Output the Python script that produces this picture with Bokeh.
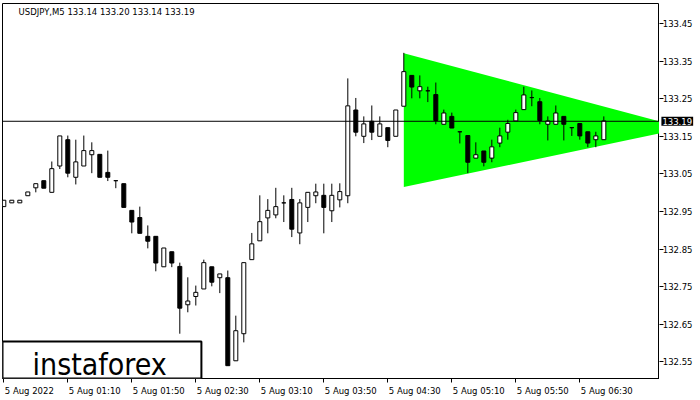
from bokeh.plotting import figure
from bokeh.layouts import row
from bokeh.models import (Range1d, FixedTicker, Span, Label, BoxAnnotation, ColumnDataSource,
                          NumeralTickFormatter, LinearAxis)
from bokeh.embed import file_html
from bokeh.resources import INLINE

# ---- data (USDJPY M5, 5 Aug 2022) ----
opens = [132.963, 132.973, 132.973, 132.992, 133.013, 133.032, 133.001, 133.071, 133.141, 133.041,
         133.071, 133.101, 133.102, 133.054, 133.032, 133.024, 132.953, 132.934, 132.884, 132.884,
         132.803, 132.843, 132.804, 132.702, 132.724, 132.744, 132.803, 132.774, 132.774, 132.553,
         132.625, 132.822, 132.872, 132.933, 132.941, 132.973, 132.982, 132.893, 132.961, 132.992,
         132.993, 132.952, 132.981, 132.992, 133.220, 133.150, 133.190, 133.150, 133.173, 133.150,
         133.230, 133.312, 133.271, 133.271, 133.261, 133.182, 133.203, 133.162, 133.152, 133.092,
         133.111, 133.092, 133.132, 133.161, 133.191, 133.221, 133.253, 133.242, 133.182, 133.182,
         133.203, 133.173, 133.184, 133.162, 133.141, 133.141]
highs = [132.980, 132.980, 132.980, 133.002, 133.024, 133.032, 133.083, 133.151, 133.152, 133.141,
         133.152, 133.134, 133.102, 133.112, 133.032, 133.024, 132.953, 132.963, 132.913, 132.884,
         132.853, 132.843, 132.814, 132.775, 132.753, 132.822, 132.803, 132.784, 132.793, 132.673,
         132.814, 132.893, 132.993, 132.983, 133.013, 132.993, 133.013, 132.983, 133.001, 133.024,
         133.024, 133.024, 133.025, 133.304, 133.252, 133.203, 133.232, 133.203, 133.173, 133.220,
         133.372, 133.312, 133.312, 133.282, 133.293, 133.221, 133.213, 133.162, 133.152, 133.134,
         133.111, 133.141, 133.173, 133.194, 133.221, 133.282, 133.272, 133.252, 133.203, 133.232,
         133.203, 133.173, 133.184, 133.162, 133.162, 133.203]
lows = [132.963, 132.973, 132.973, 132.992, 133.001, 133.012, 133.001, 133.063, 133.041, 133.022,
        133.071, 133.052, 133.041, 133.031, 133.012, 132.961, 132.892, 132.892, 132.852, 132.791,
        132.803, 132.802, 132.625, 132.682, 132.700, 132.744, 132.751, 132.733, 132.540, 132.553,
        132.602, 132.822, 132.872, 132.892, 132.932, 132.922, 132.882, 132.863, 132.922, 132.972,
        132.892, 132.922, 132.961, 132.972, 133.150, 133.132, 133.140, 133.150, 133.121, 133.150,
        133.230, 133.251, 133.251, 133.241, 133.182, 133.182, 133.172, 133.131, 133.052, 133.092,
        133.070, 133.081, 133.121, 133.141, 133.191, 133.221, 133.230, 133.182, 133.139, 133.182,
        133.139, 133.151, 133.141, 133.121, 133.121, 133.141]
closes = [132.980, 132.980, 132.980, 133.002, 133.024, 133.012, 133.064, 133.151, 133.052, 133.082,
          133.112, 133.112, 133.041, 133.041, 133.032, 132.961, 132.922, 132.892, 132.871, 132.813,
          132.853, 132.813, 132.693, 132.712, 132.735, 132.814, 132.762, 132.784, 132.540, 132.633,
          132.814, 132.864, 132.923, 132.953, 132.963, 132.973, 132.903, 132.973, 133.001, 133.002,
          132.961, 132.993, 133.003, 133.231, 133.161, 133.183, 133.161, 133.183, 133.139, 133.220,
          133.322, 133.281, 133.282, 133.271, 133.192, 133.212, 133.172, 133.162, 133.081, 133.101,
          133.081, 133.122, 133.151, 133.184, 133.213, 133.260, 133.253, 133.192, 133.191, 133.212,
          133.182, 133.173, 133.151, 133.132, 133.151, 133.191]

tick_bars = [0, 8, 16, 24, 32, 40, 48, 56, 64, 72]
tick_labels = ["5 Aug 2022", "5 Aug 01:10", "5 Aug 01:50", "5 Aug 02:30", "5 Aug 03:10",
               "5 Aug 03:50", "5 Aug 04:30", "5 Aug 05:10", "5 Aug 05:50", "5 Aug 06:30"]
price_ticks = [132.55, 132.65, 132.75, 132.85, 132.95, 133.05, 133.15, 133.25, 133.35, 133.45]

# symmetrical triangle pattern: start bar, upper/lower start prices, apex bar and price
tri_x = [50, 85.1, 50]
tri_y = [133.371, 133.172, 133.015]

bid_price = 133.19
title_text = "USDJPY,M5  133.14 133.20 133.14 133.19"

# ---- build ----
idx = list(range(len(opens)))
bull = [c > o for o, c in zip(opens, closes)]
src = ColumnDataSource(dict(
    x=idx, o=opens, h=highs, l=lows, c=closes,
    top=[max(o, c) for o, c in zip(opens, closes)],
    bot=[min(o, c) for o, c in zip(opens, closes)],
    fill=["white" if b else "black" for b in bull],
))

FONT = "DejaVu Sans"
FS = "8.5px"
PX_PER_BAR = 8.0
yr = Range1d(132.5059, 133.5032)

# ---------- main chart ----------
p = figure(frame_width=657, frame_height=375, output_backend="svg", toolbar_location=None,
           x_range=Range1d(-0.1625, 81.96), y_range=yr,
           y_axis_location=None, x_axis_location=None,
           min_border_left=2, min_border_top=3, min_border_right=0, min_border_bottom=0)
p.background_fill_color = "white"
p.border_fill_color = "white"
p.outline_line_color = "black"
p.outline_line_width = 1
p.xgrid.visible = False
p.ygrid.visible = False

p.patch(tri_x, tri_y, fill_color="#00ff00", line_color=None)
p.segment(x0="x", y0="l", x1="x", y1="h", source=src, line_color="black", line_width=1)
p.vbar(x="x", top="top", bottom="bot", width=0.5, source=src,
       fill_color="fill", line_color="black", line_width=1)
p.add_layout(Span(location=bid_price, dimension="width", line_color="black", line_width=1))

# x axis: tick marks at bar positions
xa = LinearAxis(ticker=FixedTicker(ticks=tick_bars),
                major_label_overrides={t: "" for t in tick_bars},
                major_label_text_font_size="1px", major_label_standoff=0,
                axis_line_color="black", major_tick_line_color="black",
                major_tick_in=0, major_tick_out=4, minor_tick_line_color=None)
p.add_layout(xa, "below")
# x axis labels: left-aligned at each tick (MetaTrader style)
char_w = {c: 0.636 for c in "0123456789"}
char_w.update({" ": 0.318, "A": 0.684, "u": 0.634, "g": 0.635, ":": 0.337})
label_pos = []
for t, s in zip(tick_bars, tick_labels):
    w = sum(char_w.get(ch, 0.6) for ch in s) * 8.5
    label_pos.append(t + (w / 2 + 1) / PX_PER_BAR)
xl = LinearAxis(ticker=FixedTicker(ticks=label_pos),
                major_label_overrides={lp: s for lp, s in zip(label_pos, tick_labels)},
                axis_line_color=None, major_tick_line_color=None, minor_tick_line_color=None,
                major_label_text_font=FONT, major_label_text_font_size=FS,
                major_label_text_color="black", major_label_standoff=-3)
p.add_layout(xl, "below")

p.add_layout(Label(x=1.84, y=133.4806, text=title_text, text_font=FONT, text_font_size=FS,
                   text_color="black", text_baseline="middle", text_align="left"))

p.add_layout(BoxAnnotation(left=-0.1625, right=24.7, bottom=132.5059, top=132.604,
                           fill_color="white", fill_alpha=1, line_color="black", line_alpha=1,
                           line_width=2))
p.add_layout(Label(x=3.59, y=132.542, text="instaforex", text_font="DejaVu Sans Condensed",
                   text_font_size="30px", text_color="black", text_baseline="middle",
                   text_align="left"))

# ---------- price scale strip (right of the chart) ----------
q = figure(frame_width=38, frame_height=375, output_backend="svg", toolbar_location=None,
           x_range=Range1d(0, 1), y_range=yr, x_axis_location=None, y_axis_location="left",
           min_border_left=0, min_border_top=3, min_border_right=0, min_border_bottom=0)
q.background_fill_color = "white"
q.border_fill_color = "white"
q.outline_line_color = None
q.xgrid.visible = False
q.ygrid.visible = False
qa = q.yaxis[0]
qa.ticker = FixedTicker(ticks=price_ticks)
qa.formatter = NumeralTickFormatter(format="0.00")
qa.axis_line_color = None
qa.major_tick_line_color = "black"
qa.major_tick_in = 4
qa.major_tick_out = 0
qa.minor_tick_line_color = None
qa.major_label_text_font = FONT
qa.major_label_text_font_size = FS
qa.major_label_text_color = "black"
qa.major_label_standoff = -33

q.add_layout(Label(x=0.05, y=bid_price, text="133.19", text_font=FONT, text_font_size=FS,
                   text_color="white", text_baseline="middle", text_align="left",
                   background_fill_color="black", background_fill_alpha=1.0, padding=1))

layout = row(p, q)
open("out.html", "w").write(file_html(layout, INLINE))
